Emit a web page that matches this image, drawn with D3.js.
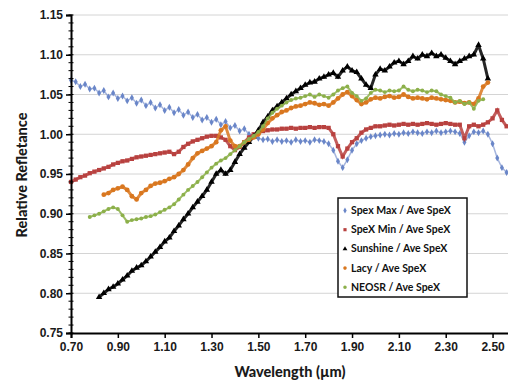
<!DOCTYPE html>
<html>
<head>
<meta charset="utf-8">
<script src="https://cdn.jsdelivr.net/npm/d3@7"></script>
<style>
  body { margin: 0; background: #fff; }
  svg { display: block; font-family: Lato, "Open Sans", sans-serif; }
</style>
</head>
<body>
<svg id="chart" width="508" height="383"></svg>
<script>
// wavelength grid (µm), 0.70 .. 2.56 every 0.02
let wavelengths = d3.range(0, 94).map(i => +(0.70 + i * 0.02).toFixed(2));

// values, one per wavelength (null = no point)
let spexMax = [1.068,1.066,1.060,1.063,1.057,1.058,1.052,1.055,1.047,1.052,1.045,1.048,1.042,1.046,1.039,1.043,1.036,1.040,1.033,1.037,
  1.030,1.034,1.027,1.031,1.024,1.028,1.021,1.025,1.018,1.021,1.015,1.019,1.012,1.016,1.008,1.011,1.004,1.007,1.000,0.998,
  0.995,0.993,0.994,0.991,0.993,0.991,0.992,0.990,0.993,0.991,0.992,0.990,0.993,0.992,0.991,0.988,0.980,0.966,0.958,0.968,
  0.980,0.988,0.992,0.995,0.997,0.998,0.999,1.000,0.999,1.001,1.000,1.002,1.001,1.003,1.002,1.001,1.003,1.002,1.004,1.002,
  1.003,1.004,1.003,1.001,0.990,0.998,1.003,1.002,1.004,1.000,0.988,0.970,0.958,0.952];
let spexMin = [0.940,0.943,0.946,0.948,0.951,0.953,0.955,0.957,0.959,0.962,0.964,0.966,0.967,0.969,0.971,0.972,0.973,0.974,0.975,0.976,
  0.977,0.978,0.975,0.978,0.984,0.988,0.991,0.993,0.995,0.997,0.998,0.998,0.996,0.993,0.985,0.980,0.984,0.990,0.996,1.000,
  1.003,1.004,1.005,1.006,1.006,1.007,1.007,1.008,1.007,1.008,1.008,1.009,1.008,1.009,1.009,1.008,1.000,0.985,0.972,0.982,
  0.990,0.995,1.002,1.006,1.008,1.010,1.010,1.011,1.012,1.011,1.012,1.013,1.012,1.013,1.012,1.013,1.014,1.013,1.012,1.013,
  1.014,1.013,1.012,1.012,0.995,1.010,1.012,1.010,1.012,1.015,1.020,1.030,1.018,1.010];
let sunshine = [null,null,null,null,null,null,0.795,0.800,0.805,0.808,0.812,0.817,0.822,0.828,0.832,0.835,0.840,0.846,0.852,0.858,
  0.865,0.870,0.878,0.885,0.893,0.900,0.908,0.915,0.922,0.930,0.940,0.950,0.955,0.950,0.955,0.965,0.975,0.983,0.990,0.997,
  1.005,1.015,1.022,1.030,1.035,1.040,1.045,1.050,1.054,1.058,1.062,1.065,1.066,1.070,1.072,1.075,1.077,1.072,1.080,1.085,
  1.080,1.078,1.070,1.062,1.058,1.075,1.082,1.080,1.085,1.090,1.092,1.088,1.092,1.098,1.095,1.100,1.098,1.102,1.098,1.100,
  1.096,1.092,1.088,1.092,1.095,1.098,1.100,1.112,1.095,1.070];
let lacy = [null,null,null,null,null,null,null,0.924,0.926,0.930,0.932,0.934,0.930,0.922,0.918,0.926,0.930,0.935,0.938,0.939,
  0.941,0.944,0.946,0.950,0.955,0.962,0.970,0.976,0.979,0.982,0.985,0.990,1.005,1.010,0.992,0.985,0.985,0.990,0.993,0.996,
  1.000,1.006,1.014,1.020,1.024,1.028,1.030,1.033,1.035,1.036,1.038,1.040,1.039,1.037,1.038,1.036,1.040,1.045,1.050,1.053,
  1.048,1.043,1.038,1.040,1.044,1.046,1.045,1.047,1.048,1.046,1.047,1.050,1.047,1.045,1.046,1.045,1.044,1.046,1.045,1.044,
  1.043,1.042,1.040,1.041,1.039,1.040,1.038,1.045,1.060,1.065];
let neosr = [null,null,null,null,0.896,0.898,0.900,0.903,0.906,0.908,0.906,0.898,0.890,0.892,0.893,0.894,0.896,0.897,0.899,0.902,
  0.905,0.908,0.912,0.918,0.924,0.930,0.935,0.940,0.946,0.952,0.958,0.963,0.967,0.970,0.975,0.980,0.985,0.990,0.994,0.998,
  1.003,1.010,1.020,1.027,1.032,1.036,1.040,1.043,1.045,1.046,1.048,1.050,1.047,1.050,1.048,1.046,1.050,1.055,1.058,1.060,
  1.052,1.048,1.042,1.045,1.052,1.056,1.055,1.053,1.055,1.054,1.055,1.060,1.056,1.054,1.056,1.055,1.053,1.055,1.054,1.050,
  1.048,1.046,1.040,1.042,1.038,1.040,1.032,1.042,1.044];

let seriesNames = ['Spex Max / Ave SpeX', 'SpeX Min / Ave SpeX', 'Sunshine / Ave SpeX', 'Lacy / Ave SpeX', 'NEOSR / Ave SpeX'];
let seriesValues = [spexMax, spexMin, sunshine, lacy, neosr];
let seriesColors = ['#6a86c8', '#b8413f', '#000000', '#d9771f', '#8cb04a'];
let seriesSymbols = [d3.symbolDiamond, d3.symbolSquare, d3.symbolTriangle, d3.symbolCircle, d3.symbolCircle];
let seriesSizes = [14, 18, 18, 18, 12];
let bandWidths = [1.5, 3, 3, 3, 2];

let yTicks = [0.75, 0.80, 0.85, 0.90, 0.95, 1.00, 1.05, 1.10, 1.15];
let xTicks = [0.70, 0.90, 1.10, 1.30, 1.50, 1.70, 1.90, 2.10, 2.30, 2.50];

let svg = d3.select('#chart');
let plotLeft = 71, plotTop = 15, plotBottom = 333;

let xScale = d3.scaleLinear().domain([0.70, 2.60]).range([plotLeft, plotLeft + 1.9 * 234.2]);
let yScale = d3.scaleLinear().domain([0.75, 1.15]).range([plotBottom, plotTop]);

// gridlines
svg.append('g')
    .selectAll('line')
    .data(yTicks.slice(1))
    .enter()
    .append('line')
    .attr('x1', plotLeft)
    .attr('x2', 508)
    .attr('y1', d => yScale(d))
    .attr('y2', d => yScale(d))
    .attr('stroke', '#d4d4d4')
    .attr('stroke-width', 1);

// points (a thin band joins the dense markers, as in the original scatter)
let symbolGen = d3.symbol();
let band = d3.line()
    .defined(d => d[1] != null)
    .x(d => xScale(d[0]))
    .y(d => yScale(d[1]));

seriesValues.forEach((values, s) => {
    let pts = wavelengths.map((w, i) => [w, values[i]]).filter(p => p[1] != null);
    let g = svg.append('g');
    g.append('path')
        .attr('d', band(pts))
        .attr('fill', 'none')
        .attr('stroke', seriesColors[s])
        .attr('stroke-width', bandWidths[s])
        .attr('stroke-opacity', s === 0 ? 0.6 : 0.85);
    g.selectAll('.pt')
        .data(pts)
        .enter()
        .append('path')
        .attr('class', 'pt')
        .attr('transform', d => `translate(${xScale(d[0])},${yScale(d[1])})`)
        .attr('d', symbolGen.type(seriesSymbols[s]).size(seriesSizes[s]))
        .attr('fill', seriesColors[s]);
});

// axes
let yAxis = d3.axisLeft(yScale)
                .tickValues(yTicks)
                .tickFormat(d3.format('.2f'))
                .tickSize(5)
                .tickPadding(3);
let yAxisG = svg.append('g')
    .attr('transform', `translate(${plotLeft},0)`)
    .call(yAxis);

// minor ticks on y
svg.append('g')
    .selectAll('line')
    .data(d3.range(0, 41).map(i => 0.75 + i * 0.01))
    .enter()
    .append('line')
    .attr('x1', plotLeft - 2.5)
    .attr('x2', plotLeft + 2.5)
    .attr('y1', d => yScale(d))
    .attr('y2', d => yScale(d))
    .attr('stroke', '#000')
    .attr('stroke-width', 1);

let xAxis = d3.axisBottom(xScale)
                .tickValues(xTicks)
                .tickFormat(d3.format('.2f'))
                .tickSize(5)
                .tickPadding(4);
let xAxisG = svg.append('g')
    .attr('transform', `translate(0,${plotBottom})`)
    .call(xAxis);

[yAxisG, xAxisG].forEach(g => {
    g.select('.domain').attr('stroke', '#000').attr('stroke-width', 2);
    g.selectAll('.tick line').attr('stroke', '#000').attr('stroke-width', 1.5);
    g.selectAll('.tick text')
        .style('font-size', '12px')
        .style('font-weight', '900')
        .attr('fill', '#1a1a1a');
});

// axis titles
svg.append('text')
    .text('Relative Refletance')
    .attr('transform', 'translate(27,175) rotate(-90)')
    .attr('text-anchor', 'middle')
    .style('font-size', '14.5px')
    .style('font-weight', '900')
    .attr('fill', '#1a1a1a');

svg.append('text')
    .text('Wavelength (µm)')
    .attr('x', 290)
    .attr('y', 377)
    .attr('text-anchor', 'middle')
    .style('font-size', '14.5px')
    .style('font-weight', '900')
    .attr('fill', '#1a1a1a');

// legend
let legend = svg.append('g').attr('transform', 'translate(338,198)');
legend.append('rect')
    .attr('width', 129)
    .attr('height', 99)
    .attr('fill', '#fff')
    .attr('stroke', '#111')
    .attr('stroke-width', 1.5);

let legendItems = legend.selectAll('g')
    .data(seriesNames)
    .enter()
    .append('g')
    .attr('transform', (d, i) => `translate(0, ${12.5 + i * 19.2})`);

legendItems.append('path')
    .attr('transform', 'translate(7,0)')
    .attr('d', (d, i) => symbolGen.type(seriesSymbols[i]).size(10)())
    .attr('fill', (d, i) => seriesColors[i]);

legendItems.append('text')
    .text(d => d)
    .attr('x', 13)
    .attr('y', 3.5)
    .style('font-size', '10.5px')
    .style('font-weight', 'bold')
    .attr('fill', '#111');
</script>
</body>
</html>
